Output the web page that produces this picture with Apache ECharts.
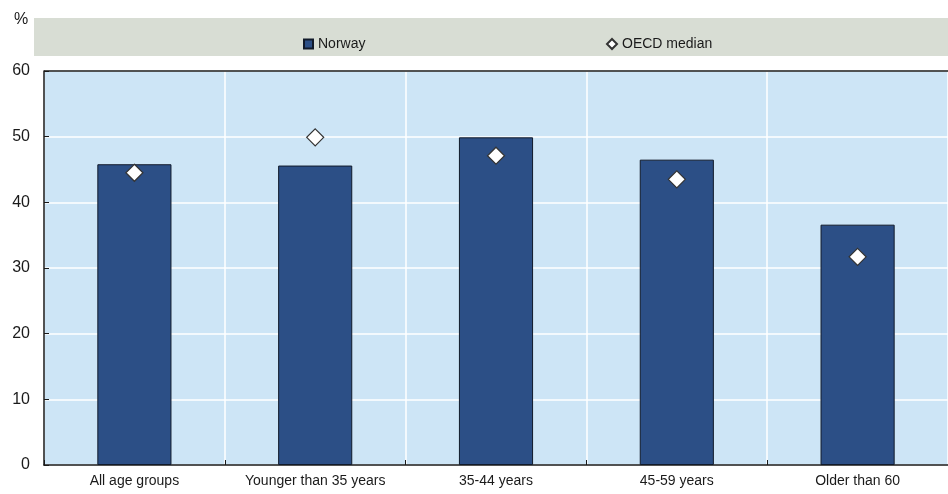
<!DOCTYPE html>
<html>
<head>
<meta charset="utf-8">
<script src="https://cdn.jsdelivr.net/npm/echarts@6/dist/echarts.min.js"></script>
<style>
html,body{margin:0;padding:0;background:#ffffff;}
#chart{width:948px;height:494px;}
</style>
</head>
<body>
<div id="chart"></div>
<script>
const categories = ['All age groups', 'Younger than 35 years', '35-44 years', '45-59 years', 'Older than 60'];
const norway = [45.8, 45.6, 49.9, 46.5, 36.6];
const oecdMedian = [44.5, 49.9, 47.1, 43.5, 31.7];
const yTicks = [0, 10, 20, 30, 40, 50, 60];

const FONT = '"Liberation Sans", Arial, sans-serif';
const chart = echarts.init(document.getElementById('chart'));
chart.setOption({
  animation: false,
  backgroundColor: '#ffffff',
  graphic: [
    { type: 'rect', left: 34, top: 18, shape: { width: 914, height: 38 }, style: { fill: '#d8ddd4' }, z: -10 },
    { type: 'text', left: 14, top: 12, style: { text: '%', font: '16px ' + FONT, fill: '#1a1a1a' } }
  ],
  legend: [
    { data: [{ name: 'Norway', icon: 'rect' }], left: 298, top: 32, itemWidth: 9, itemHeight: 9, itemGap: 4,
      textStyle: { fontFamily: FONT, fontSize: 14, color: '#1a1a1a' } },
    { data: [{ name: 'OECD median', icon: 'diamond' }], left: 601, top: 32, itemWidth: 10, itemHeight: 10,
      textStyle: { fontFamily: FONT, fontSize: 14, color: '#1a1a1a' } }
  ],
  grid: { left: 44, right: -8, top: 71, bottom: 29, show: true, backgroundColor: '#cde5f6', borderWidth: 0 },
  xAxis: {
    type: 'category',
    data: categories,
    axisLine: { lineStyle: { color: '#1a1a1a', width: 1.5 } },
    axisTick: { show: true, inside: true, length: 5, interval: 0, lineStyle: { color: '#1a1a1a' } },
    axisLabel: { fontFamily: FONT, fontSize: 14, color: '#1a1a1a', margin: 9, interval: 0 },
    splitLine: { show: true, interval: 0, lineStyle: { color: '#ffffff', width: 1.5 } }
  },
  yAxis: {
    type: 'value',
    min: 0, max: 60, interval: 10,
    axisLine: { show: true, lineStyle: { color: '#1a1a1a', width: 1.5 } },
    axisTick: { show: true, inside: true, length: 5, lineStyle: { color: '#1a1a1a' } },
    axisLabel: { fontFamily: FONT, fontSize: 16, color: '#1a1a1a', margin: 14,
      formatter: v => yTicks.includes(v) ? String(v) : '' },
    splitLine: { show: true, lineStyle: { color: '#ffffff', width: 1.5 } }
  },
  series: [
    {
      name: 'Norway', type: 'bar', data: norway, barWidth: '41%',
      itemStyle: { color: '#2c4f86', borderColor: '#111a2a', borderWidth: 1 },
      markLine: {
        silent: true, symbol: 'none', label: { show: false },
        lineStyle: { color: '#1a1a1a', width: 1.5, type: 'solid' },
        data: [{ yAxis: 60 }]
      }
    },
    {
      name: 'OECD median', type: 'scatter', data: oecdMedian, symbol: 'diamond', symbolSize: 17,
      itemStyle: { color: '#ffffff', opacity: 1, borderColor: '#333333', borderWidth: 1.2 }, z: 5
    }
  ]
});
</script>
</body>
</html>
